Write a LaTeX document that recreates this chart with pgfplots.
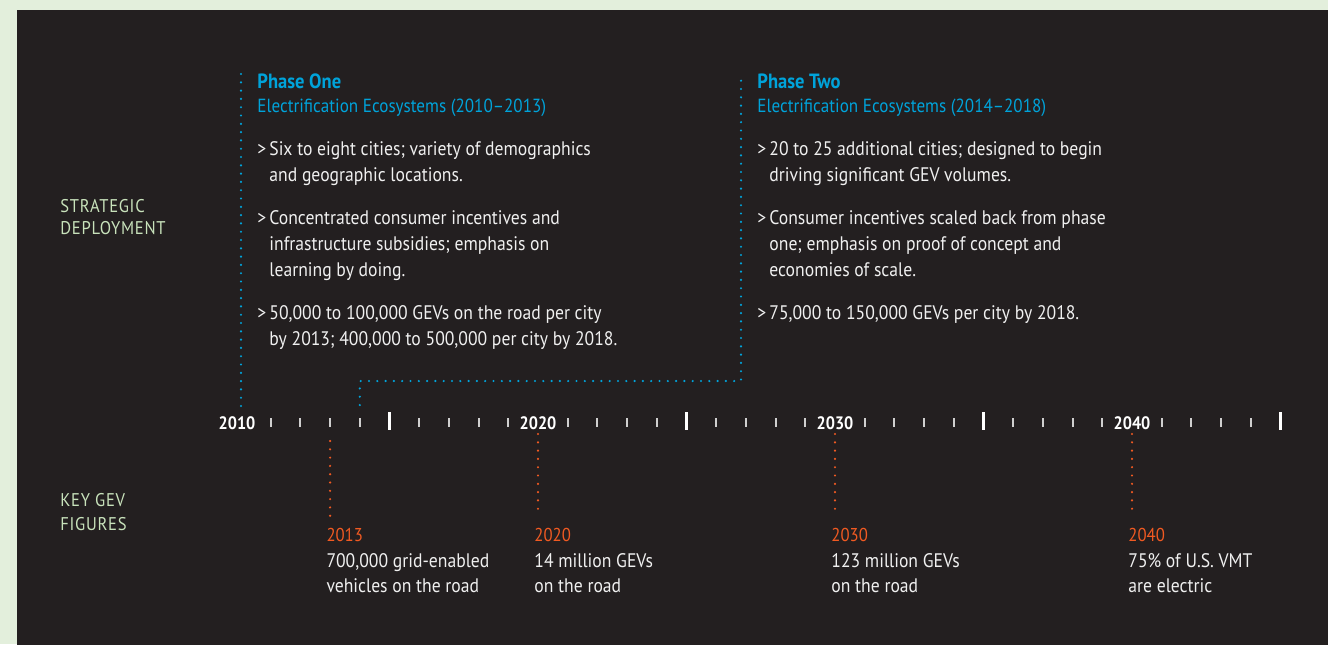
\documentclass[border=0pt]{standalone}
\usepackage{pgfplots}
\pgfplotsset{compat=1.18}
\usepackage{fontspec}
\setmainfont{PT Sans}[FakeStretch=0.9]
\definecolor{bgl}{HTML}{E3EFDC}
\definecolor{dark}{HTML}{231F20}
\definecolor{pblue}{HTML}{00A3DA}
\definecolor{porange}{HTML}{F15A22}
\definecolor{lgreen}{HTML}{C8E2BB}
\definecolor{txt}{HTML}{F0F0F0}
\definecolor{tickgray}{HTML}{CFCFCF}
\tikzset{
  body/.style={anchor=base west, inner sep=0pt, text=txt, font=\fontsize{9.8pt}{13pt}\selectfont},
  phead/.style={anchor=base west, inner sep=0pt, text=pblue, font=\fontsize{10.3pt}{13pt}\selectfont\bfseries},
  psub/.style={anchor=base west, inner sep=0pt, text=pblue, font=\fontsize{9.5pt}{13pt}\selectfont},
  side/.style={anchor=base west, inner sep=0pt, text=lgreen, font=\fontsize{9.2pt}{12pt}\selectfont\addfontfeature{LetterSpace=4}},
  yr/.style={anchor=base, inner sep=0pt, text=white, font=\fontsize{9.0pt}{12pt}\selectfont\bfseries},
  oyr/.style={anchor=base west, inner sep=0pt, text=porange, font=\fontsize{9.3pt}{12pt}\selectfont},
  obody/.style={anchor=base west, inner sep=0pt, text=txt, font=\fontsize{9.8pt}{12pt}\selectfont},
  dots/.style={line width=1.2pt, line cap=round, dash pattern=on 0pt off 4.15pt},
}
\begin{document}
\begin{tikzpicture}
\begin{axis}[
  scale only axis, width=664pt, height=322pt,
  xmin=2001.8855, xmax=2046.5993, ymin=0, ymax=644, y dir=reverse,
  hide axis, xtick=\empty, ytick=\empty, clip=false,
]
\fill[bgl] (rel axis cs:0,0) rectangle (rel axis cs:1,1);
\fill[dark] (axis cs:2002.4579,10) rectangle (axis cs:2048,660);

% minor ticks
\addplot[tickgray, only marks, mark=|, mark size=2.25pt, mark options={line width=1pt}] coordinates {
(2011,422.5) (2012,422.5) (2013,422.5) (2014,422.5)
(2016,422.5) (2017,422.5) (2018,422.5) (2019,422.5)
(2021,422.5) (2022,422.5) (2023,422.5) (2024,422.5)
(2026,422.5) (2027,422.5) (2028,422.5) (2029,422.5)
(2031,422.5) (2032,422.5) (2033,422.5) (2034,422.5)
(2036,422.5) (2037,422.5) (2038,422.5) (2039,422.5)
(2041,422.5) (2042,422.5) (2043,422.5) (2044,422.5)};
% major ticks
\addplot[white, only marks, mark=|, mark size=4.5pt, mark options={line width=1.5pt}] coordinates {
(2015,421) (2025,421) (2035,421) (2045,421)};

% phase lines
\addplot[pblue, dots] coordinates {(2010,74) (2010,407)};
\addplot[pblue, dots] coordinates {(2014,405) (2014,381) (2026.835,381) (2026.835,74)};

% key figure lines
\addplot[porange, dots] coordinates {(2013,441) (2013,516)};
\addplot[porange, dots] coordinates {(2020,434) (2020,516)};
\addplot[porange, dots] coordinates {(2030,434) (2030,516)};
\addplot[porange, dots] coordinates {(2040,434) (2040,516)};

% timeline labels
\node[yr] at (axis cs:2009.8653,429) {2010};
\node[yr] at (axis cs:2020,429) {2020};
\node[yr] at (axis cs:2030,429) {2030};
\node[yr] at (axis cs:2040,429) {2040};

% side labels
\node[side] at (axis cs:2003.9057,212) {STRATEGIC};
\node[side] at (axis cs:2003.9057,234.5) {DEPLOYMENT};
\node[side] at (axis cs:2003.9057,506.5) {KEY GEV};
\node[side] at (axis cs:2003.9057,530) {FIGURES};

% phase one
\node[phead] at (axis cs:2010.5387,88) {Phase One};
\node[psub] at (axis cs:2010.5387,112) {Electrification Ecosystems (2010–2013)};
\node[body] at (axis cs:2010.5387,155) {>};
\node[body] at (axis cs:2010.9427,155) {Six to eight cities; variety of demographics};
\node[body] at (axis cs:2010.9427,181) {and geographic locations.};
\node[body] at (axis cs:2010.5387,224) {>};
\node[body] at (axis cs:2010.9427,224) {Concentrated consumer incentives and};
\node[body] at (axis cs:2010.9427,250) {infrastructure subsidies; emphasis on};
\node[body] at (axis cs:2010.9427,276) {learning by doing.};
\node[body] at (axis cs:2010.5387,319) {>};
\node[body] at (axis cs:2010.9427,319) {50,000 to 100,000 GEVs on the road per city};
\node[body] at (axis cs:2010.9427,345) {by 2013; 400,000 to 500,000 per city by 2018.};

% phase two
\node[phead] at (axis cs:2027.3737,88) {Phase Two};
\node[psub] at (axis cs:2027.3737,112) {Electrification Ecosystems (2014–2018)};
\node[body] at (axis cs:2027.3737,155) {>};
\node[body] at (axis cs:2027.7778,155) {20 to 25 additional cities; designed to begin};
\node[body] at (axis cs:2027.7778,181) {driving significant GEV volumes.};
\node[body] at (axis cs:2027.3737,224) {>};
\node[body] at (axis cs:2027.7778,224) {Consumer incentives scaled back from phase};
\node[body] at (axis cs:2027.7778,250) {one; emphasis on proof of concept and};
\node[body] at (axis cs:2027.7778,276) {economies of scale.};
\node[body] at (axis cs:2027.3737,319) {>};
\node[body] at (axis cs:2027.7778,319) {75,000 to 150,000 GEVs per city by 2018.};

% key figures
\node[oyr] at (axis cs:2012.8653,541) {2013};
\node[obody] at (axis cs:2012.8653,567.5) {700,000 grid-enabled};
\node[obody] at (axis cs:2012.8653,592.5) {vehicles on the road};
\node[oyr] at (axis cs:2019.8653,541) {2020};
\node[obody] at (axis cs:2019.8653,567.5) {14 million GEVs};
\node[obody] at (axis cs:2019.8653,592.5) {on the road};
\node[oyr] at (axis cs:2029.8653,541) {2030};
\node[obody] at (axis cs:2029.8653,567.5) {123 million GEVs};
\node[obody] at (axis cs:2029.8653,592.5) {on the road};
\node[oyr] at (axis cs:2039.8653,541) {2040};
\node[obody] at (axis cs:2039.8653,567.5) {75\% of U.S. VMT};
\node[obody] at (axis cs:2039.8653,592.5) {are electric};
\end{axis}
\pgfresetboundingbox
\useasboundingbox (current axis.south west) rectangle (current axis.north east);
\end{tikzpicture}
\end{document}
